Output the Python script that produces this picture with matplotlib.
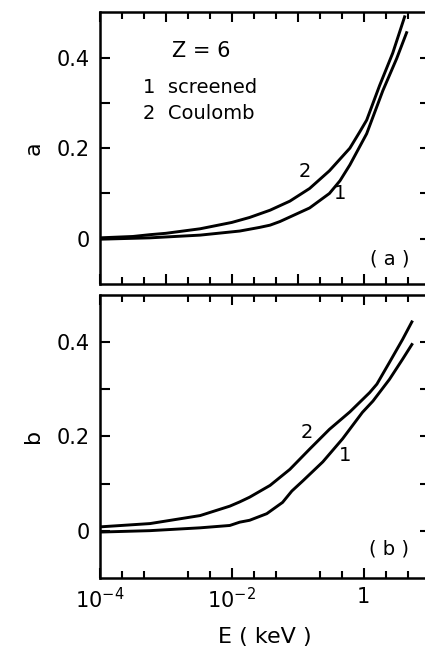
import numpy as np
import matplotlib
matplotlib.use("Agg")
import matplotlib.pyplot as plt
from matplotlib.ticker import FixedLocator, NullFormatter

plt.rcParams['font.family'] = ['DejaVu Sans']
plt.rcParams['mathtext.fontset'] = 'dejavusans'

# panel (a): log10(E/keV) and a
loge_a2 = [-4, -3.5, -3.24, -3, -2.48, -2, -1.73, -1.42, -1.12, -0.82, -0.52, -0.21, -0.06, 0.045, 0.24, 0.44, 0.62]
a_coul = [0.002, 0.005, 0.009, 0.012, 0.022, 0.036, 0.047, 0.063, 0.083, 0.111, 0.150, 0.200, 0.236, 0.262, 0.338, 0.410, 0.490]
loge_a1 = [-4, -3.24, -2.48, -1.88, -1.58, -1.42, -1.27, -1.12, -0.82, -0.52, -0.36, -0.21, 0.045, 0.29, 0.50, 0.65]
a_scr = [-0.001, 0.002, 0.008, 0.017, 0.025, 0.030, 0.038, 0.048, 0.068, 0.100, 0.128, 0.163, 0.232, 0.327, 0.398, 0.455]

# panel (b)
loge_b2 = [-4, -3.24, -2.48, -2.03, -1.88, -1.73, -1.42, -1.12, -0.82, -0.52, -0.21, 0.09, 0.20, 0.39, 0.59, 0.73]
b_coul = [0.008, 0.015, 0.032, 0.052, 0.061, 0.071, 0.096, 0.130, 0.173, 0.215, 0.252, 0.293, 0.311, 0.357, 0.406, 0.443]
loge_b1 = [-4, -3.24, -2.48, -2.03, -1.88, -1.73, -1.47, -1.23, -1.09, -0.92, -0.62, -0.32, -0.02, 0.14, 0.39, 0.59, 0.73]
b_scr = [-0.003, 0.0, 0.006, 0.011, 0.018, 0.022, 0.036, 0.060, 0.084, 0.106, 0.146, 0.195, 0.251, 0.275, 0.321, 0.364, 0.395]

xticks = [1e-4, 1e-2, 1]
xticklabels = ['$10^{-4}$', '$10^{-2}$', '1']
yticks = [0, 0.2, 0.4]
yticklabels = ['0', '0.2', '0.4']

fig = plt.figure(figsize=(4.25, 6.47), dpi=100)
ax1 = fig.add_axes([0.235, 0.561, 0.776, 0.420])
ax2 = fig.add_axes([0.235, 0.107, 0.776, 0.437])

def style(ax):
    ax.set_xscale('log')
    ax.set_xlim(1e-4, 10)
    ax.set_ylim(-0.1, 0.5)
    ax.xaxis.set_major_locator(FixedLocator([1e-4, 1e-3, 1e-2, 1e-1, 1, 10]))
    minors = [10 ** (k / 3) for k in range(-12, 4) if k % 3 != 0]
    ax.xaxis.set_minor_locator(FixedLocator(minors))
    ax.xaxis.set_minor_formatter(NullFormatter())
    ax.yaxis.set_major_locator(FixedLocator(yticks))
    ax.yaxis.set_minor_locator(FixedLocator([0.1, 0.3]))
    ax.set_yticklabels(yticklabels)
    ax.tick_params(which='both', direction='in', top=True, right=True, width=1.5, labelsize=15, pad=7)
    ax.tick_params(which='major', length=7.5)
    ax.tick_params(axis='x', which='minor', length=5)
    ax.tick_params(axis='y', which='minor', length=7.5)
    for s in ax.spines.values():
        s.set_linewidth(1.8)

style(ax1)
style(ax2)

ax1.plot(10 ** np.array(loge_a2), a_coul, color='black', lw=2.1)
ax1.plot(10 ** np.array(loge_a1), a_scr, color='black', lw=2.1)
ax1.set_xticklabels([])
ax1.set_ylabel('a', fontsize=16, labelpad=10)
ax1.text(10 ** -0.89, 0.149, '2', fontsize=14, ha='center', va='center')
ax1.text(10 ** -0.36, 0.100, '1', fontsize=14, ha='center', va='center')
ax1.text(10 ** -2.47, 0.415, 'Z = 6', fontsize=15, ha='center', va='center')
ax1.text(10 ** -3.35, 0.333, '1  screened', fontsize=14, ha='left', va='center')
ax1.text(10 ** -3.35, 0.276, '2  Coulomb', fontsize=14, ha='left', va='center')
ax1.text(10 ** 0.39, -0.044, '( a )', fontsize=14, ha='center', va='center')

ax2.plot(10 ** np.array(loge_b2), b_coul, color='black', lw=2.1)
ax2.plot(10 ** np.array(loge_b1), b_scr, color='black', lw=2.1)
ax2.set_xticks(xticks)
ax2.set_xticklabels(xticklabels)
ax2.set_ylabel('b', fontsize=16, labelpad=10)
ax2.set_xlabel('E ( keV )', fontsize=16, labelpad=10)
ax2.text(10 ** -0.86, 0.209, '2', fontsize=14, ha='center', va='center')
ax2.text(10 ** -0.29, 0.159, '1', fontsize=14, ha='center', va='center')
ax2.text(10 ** 0.39, -0.038, '( b )', fontsize=14, ha='center', va='center')

fig.savefig('out.png', dpi=100)
